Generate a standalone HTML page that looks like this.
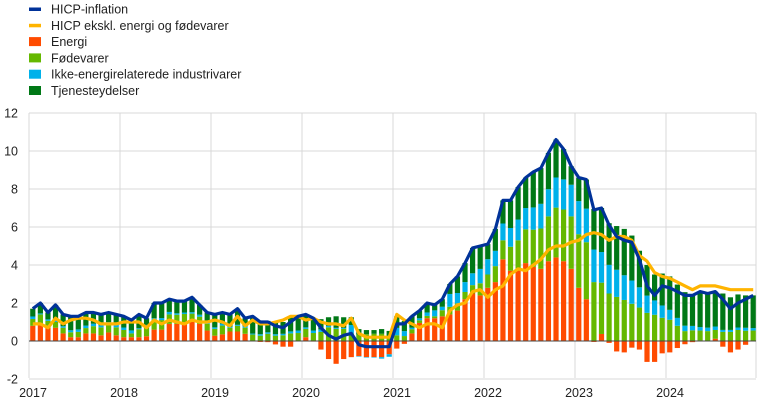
<!DOCTYPE html>
<html><head><meta charset="utf-8"><style>
body{margin:0;background:#fff;}
svg{display:block;font-family:"Liberation Sans",Arial,sans-serif;}
</style></head><body>
<svg id="c" width="767" height="406" xmlns="http://www.w3.org/2000/svg"></svg>
<script>
(function(){
var H=[1.7,2.0,1.5,1.9,1.4,1.3,1.3,1.5,1.5,1.4,1.5,1.4,
1.3,1.1,1.4,1.2,2.0,2.0,2.2,2.1,2.1,2.3,1.9,1.5,
1.4,1.5,1.4,1.7,1.2,1.3,1.0,1.0,0.8,0.7,1.0,1.3,
1.4,1.2,0.7,0.3,0.1,0.3,0.4,-0.2,-0.3,-0.3,-0.3,-0.3,
0.9,0.9,1.3,1.6,2.0,1.9,2.2,3.0,3.4,4.1,4.9,5.0,
5.1,5.9,7.4,7.4,8.1,8.6,8.9,9.1,9.9,10.6,10.1,9.2,
8.6,8.5,6.9,7.0,6.1,5.5,5.3,5.2,4.3,2.9,2.4,2.9,
2.8,2.6,2.4,2.4,2.6,2.5,2.6,2.2,1.7,2.0,2.2,2.4];
var C=[0.9,0.9,0.7,1.2,0.9,1.1,1.2,1.2,1.1,0.9,0.9,0.9,
1.0,1.0,1.0,0.7,1.1,0.9,1.1,1.0,0.9,1.1,1.0,1.0,
1.1,1.0,0.8,1.3,0.8,1.1,0.9,0.9,1.0,1.1,1.3,1.3,
1.1,1.2,1.0,0.9,0.9,0.8,1.2,0.4,0.2,0.2,0.2,0.2,
1.4,1.1,0.9,0.7,0.9,0.9,0.7,1.6,1.9,2.0,2.6,2.7,
2.3,2.7,2.9,3.5,3.8,3.7,4.0,4.3,4.8,5.0,5.0,5.2,
5.3,5.6,5.7,5.6,5.3,5.5,5.5,5.3,4.5,4.2,3.6,3.4,
3.3,3.1,2.9,2.7,2.9,2.9,2.9,2.8,2.7,2.7,2.7,2.7];
var E=[0.8,0.9,0.7,0.7,0.4,0.2,0.2,0.4,0.4,0.3,0.45,0.3,
0.2,0.2,0.2,0.25,0.6,0.6,0.9,0.9,0.9,1.0,0.9,0.55,
0.28,0.35,0.5,0.5,0.38,0.02,-0.05,-0.06,-0.18,-0.3,-0.3,0.02,
0.2,-0.03,-0.45,-0.95,-1.2,-0.95,-0.85,-0.8,-0.85,-0.85,-0.85,-0.7,
-0.4,-0.15,0.4,0.95,1.2,1.2,1.3,1.4,1.6,2.2,2.5,2.4,
2.8,3.1,4.3,3.7,3.8,4.1,3.9,3.8,4.2,4.4,4.2,3.8,
2.8,2.2,-0.05,0.37,-0.1,-0.55,-0.6,-0.35,-0.45,-1.1,-1.1,-0.65,
-0.6,-0.37,-0.17,-0.06,0.03,0.02,0.12,-0.3,-0.6,-0.45,-0.2,0.01];
var F=[1.8,2.5,1.8,1.5,1.5,1.3,1.4,1.4,1.9,2.1,2.2,2.1,
1.9,1.0,2.1,2.6,2.6,2.5,2.5,2.4,2.6,2.2,1.9,1.8,
1.8,2.3,1.0,1.5,1.6,1.6,1.4,1.9,1.4,1.5,2.0,2.0,
2.2,2.1,2.4,3.6,3.2,3.2,2.0,1.7,1.8,1.9,1.9,1.3,
1.5,1.3,1.1,0.7,0.6,0.5,1.6,2.0,1.9,1.9,2.2,3.2,
3.5,4.2,5.0,6.3,7.5,8.9,9.8,10.6,11.8,13.1,13.6,13.8,
14.1,15.0,15.5,13.5,12.5,11.6,10.8,9.8,8.8,7.4,6.9,6.1,
5.6,4.0,2.6,2.8,2.6,2.5,2.3,2.4,2.4,2.9,2.7,2.7];
var N=[0.5,0.2,0.3,0.3,0.3,0.4,0.5,0.5,0.5,0.4,0.4,0.5,
0.5,0.6,0.2,0.3,0.3,0.4,0.5,0.3,0.3,0.3,0.4,0.4,
0.3,0.4,0.2,0.2,0.3,0.2,0.3,0.3,0.3,0.3,0.4,0.5,
0.3,0.5,0.5,0.3,0.2,0.2,1.7,-0.1,-0.1,-0.1,-0.3,-0.5,
1.5,1.0,0.3,0.4,0.7,1.2,0.7,2.6,2.1,2.0,2.4,2.9,
3.1,3.1,3.4,3.8,4.2,4.3,4.5,5.0,5.5,6.1,6.1,6.4,
6.7,6.8,6.6,6.2,5.8,5.5,5.0,4.7,4.1,3.5,2.9,2.5,
2.0,1.6,1.1,0.9,0.7,0.7,0.7,0.4,0.4,0.5,0.6,0.5];
var s='';
function Y(v){return 341-19*v;}
function X(i){return 29+7.583*i+3.79;}
for(var v=-2;v<=12;v+=2){ if(v!==0) s+='<line x1="29" x2="756" y1="'+Y(v)+'" y2="'+Y(v)+'" stroke="#d9d9d9" stroke-width="1"/>';
 s+='<text x="18" y="'+(Y(v)+4.5)+'" font-size="12.5" text-anchor="end" fill="#222">'+v+'</text>';}
for(var k=0;k<=8;k++){var gx=29+91*k; if(k==8)gx=756; s+='<line x1="'+gx+'" x2="'+gx+'" y1="113" y2="378" stroke="#d9d9d9" stroke-width="1"/>';
 if(k<8) s+='<text x="'+(gx+4)+'" y="397" font-size="12.5" text-anchor="middle" fill="#222">'+(2017+k)+'</text>';}
var cols=['#ff4b00','#65b800','#00b1ea','#007816'];
for(var i=0;i<96;i++){
 var e=E[i],f=F[i]*0.2,n=N[i]*0.26,sv=H[i]-e-f-n;
 var vals=[e,f,n,sv];var pos=0,neg=0;
 for(var j=0;j<4;j++){var v2=vals[j];var y0,y1;
  if(v2>=0){y0=pos;y1=pos+v2;pos=y1;}else{y0=neg;y1=neg+v2;neg=y1;}
  var ry=Y(Math.max(y0,y1)),h=Math.abs(y1-y0)*19;
  s+='<rect x="'+(X(i)-2.6).toFixed(2)+'" y="'+ry.toFixed(2)+'" width="5.2" height="'+h.toFixed(2)+'" fill="'+cols[j]+'"/>';}
}
s+='<line x1="29" x2="756" y1="341" y2="341" stroke="#444" stroke-width="1"/>';
function pl(a,c){var p='';for(var i=0;i<96;i++)p+=(i?'L':'M')+X(i).toFixed(1)+','+Y(a[i]).toFixed(1);
 return '<path d="'+p+'" fill="none" stroke="'+c+'" stroke-width="3.2" stroke-linejoin="round"/>';}
s+=pl(C,'#ffb400');s+=pl(H,'#003299');
var L=[['HICP-inflation','#003299',1],['HICP ekskl. energi og fødevarer','#ffb400',1],['Energi','#ff4b00',0],['Fødevarer','#65b800',0],['Ikke-energirelaterede industrivarer','#00b1ea',0],['Tjenesteydelser','#007816',0]];
for(var k2=0;k2<6;k2++){var cy=9+16.3*k2;
 if(L[k2][2]) s+='<rect x="29" y="'+(cy-1.5)+'" width="12" height="3.5" fill="'+L[k2][1]+'"/>';
 else s+='<rect x="29" y="'+(cy-4.5)+'" width="12" height="9" fill="'+L[k2][1]+'"/>';
 s+='<text x="51" y="'+(cy+4.5)+'" font-size="12.5" fill="#222">'+L[k2][0]+'</text>';}
document.getElementById('c').innerHTML=s;
})();
</script>
</body></html>
